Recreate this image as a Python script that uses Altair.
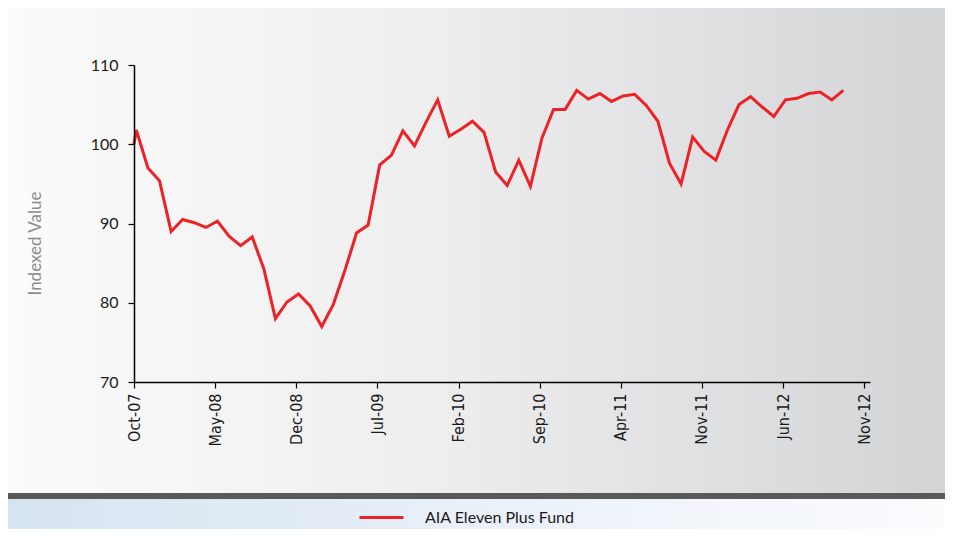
import altair as alt
import pandas as pd

series_name = "AIA Eleven Plus Fund"

# Indexed value readings (launch value first, then monthly)
values = [100.0, 101.8, 97.0, 95.4, 89.0, 90.5, 90.1, 89.5, 90.3, 88.4,
          87.2, 88.3, 84.3, 78.0, 80.1, 81.1, 79.6, 77.0, 79.8, 84.1,
          88.8, 89.8, 97.4, 98.6, 101.7, 99.8, 102.8, 105.6, 101.0, 101.9,
          102.9, 101.5, 96.5, 94.8, 98.0, 94.7, 100.8, 104.4, 104.4, 106.8,
          105.7, 106.4, 105.4, 106.1, 106.3, 104.9, 102.9, 97.6, 95.0, 100.9,
          99.1, 98.0, 101.8, 105.0, 106.0, 104.7, 103.5, 105.6, 105.8, 106.4,
          106.6, 105.6, 106.8]

# months since Oct-07 (launch point, then monthly observations)
months = [0.0] + [k + 0.2 for k in range(62)]

tick_months = [0, 7, 14, 21, 28, 35, 42, 49, 56, 63]
tick_labels = ["Oct-07", "May-08", "Dec-08", "Jul-09", "Feb-10",
               "Sep-10", "Apr-11", "Nov-11", "Jun-12", "Nov-12"]
y_ticks = [70, 80, 90, 100, 110]

df = pd.DataFrame({"month": months, "value": values, "series": series_name})
one = pd.DataFrame({"k": [0]})

label_expr = "[" + ",".join("'%s'" % t for t in tick_labels) + "][round(datum.value / 7)]"

W, H = 736, 317

bg = alt.Chart(one).mark_rect(
    fill=alt.Gradient(
        gradient="linear",
        stops=[alt.GradientStop(color="#fbfbfb", offset=0),
               alt.GradientStop(color="#eeeeef", offset=0.45),
               alt.GradientStop(color="#d3d4d6", offset=1)],
        x1=0, x2=1, y1=0, y2=0)
).encode(x=alt.value(-126), x2=alt.value(811), y=alt.value(-57), y2=alt.value(428))

bar = alt.Chart(one).mark_rect(fill="#58595b").encode(
    x=alt.value(-126), x2=alt.value(811), y=alt.value(428), y2=alt.value(434))

strip = alt.Chart(one).mark_rect(
    fill=alt.Gradient(
        gradient="linear",
        stops=[alt.GradientStop(color="#d6e4f0", offset=0),
               alt.GradientStop(color="#e9f0f8", offset=0.5),
               alt.GradientStop(color="#fbfcfe", offset=1)],
        x1=0, x2=1, y1=0, y2=0)
).encode(x=alt.value(-126), x2=alt.value(811), y=alt.value(434), y2=alt.value(464))

line = alt.Chart(df).mark_line(strokeWidth=3).encode(
    x=alt.X("month:Q",
            scale=alt.Scale(domain=[0, 63.5], nice=False, zero=False),
            axis=alt.Axis(values=tick_months, labelExpr=label_expr, labelAngle=270,
                          tickSize=6, tickColor="#000000", domainColor="#000000",
                          domainWidth=1.5, tickWidth=1.2, labelFont="DejaVu Sans Condensed, DejaVu Sans",
                          labelFontSize=16, labelColor="#1a1a1a", labelPadding=5,
                          labelOverlap=False, grid=False, title=None, zindex=1)),
    y=alt.Y("value:Q",
            scale=alt.Scale(domain=[70, 110], nice=False, zero=False),
            axis=alt.Axis(values=y_ticks, tickSize=6, tickColor="#000000",
                          domainColor="#000000", domainWidth=1.5, tickWidth=1.2,
                          labelFont="Lato", labelFontSize=16, labelColor="#1a1a1a",
                          labelPadding=10, grid=False, zindex=1,
                          title="Indexed Value", titleFont="Lato", titleFontSize=17,
                          titleFontWeight="normal", titleColor="#8a8c8e",
                          titleAngle=270, titleX=-94, titleY=178,
                          titleAlign="center", titleBaseline="alphabetic")),
    color=alt.Color("series:N",
                    scale=alt.Scale(domain=[series_name], range=["#ec2227"]),
                    legend=alt.Legend(orient="none", legendX=224, legendY=429,
                                      title=None, symbolType="stroke", symbolSize=1936,
                                      symbolStrokeWidth=3, labelFont="Lato",
                                      labelFontSize=16, labelColor="#1a1a1a",
                                      labelOffset=20, padding=0, zindex=1))
)

chart = alt.layer(bg, bar, strip, line).properties(
    width=W, height=H,
    autosize=alt.AutoSizeParams(type="none"),
    padding={"left": 126, "top": 57, "right": 75, "bottom": 147},
    background="#ffffff",
).configure_view(stroke=None)

chart.save("out.html", embed_options={"renderer": "svg", "actions": False})
